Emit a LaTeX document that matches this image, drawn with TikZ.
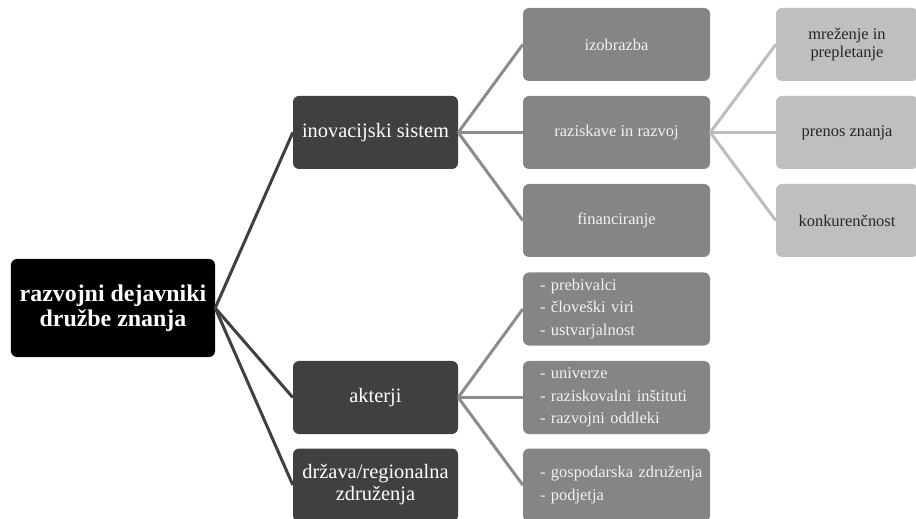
\documentclass[tikz,border=0pt]{standalone}
\usepackage{fontspec}
\setmainfont{Liberation Serif}
\usepackage{xcolor}
\usepackage{tikz}
\definecolor{darkbox}{HTML}{404040}
\definecolor{midbox}{HTML}{858585}
\definecolor{lightbox}{HTML}{BFBFBF}
\definecolor{midline}{HTML}{8C8C8C}
\definecolor{lightline}{HTML}{BDBDBD}

\begin{document}
\begin{tikzpicture}[x=1bp,y=-1bp]
\tikzstyle{rootbox}=[rectangle, rounded corners=6bp, fill=black, text=white, inner sep=2bp, minimum width=204bp, minimum height=98bp, align=center, font=\fontsize{24}{25}\selectfont\bfseries]
\tikzstyle{firstbox}=[rectangle, rounded corners=6bp, fill=darkbox, text=white, inner sep=2bp, minimum width=165bp, minimum height=73bp, align=center, font=\fontsize{20.5}{22}\selectfont]
\tikzstyle{secondbox}=[rectangle, rounded corners=6bp, fill=midbox, text=white!95!black, inner sep=2bp, minimum width=187bp, minimum height=73bp, align=center, font=\fontsize{16.5}{22.5}\selectfont]
\tikzstyle{listbox}=[secondbox, align=left, text width=153bp, inner xsep=17bp]
\tikzstyle{thirdbox}=[rectangle, rounded corners=6bp, fill=lightbox, text=black!85, inner sep=2bp, minimum width=142bp, minimum height=73bp, align=center, font=\fontsize{16.5}{19}\selectfont]
\tikzstyle{firstline}=[draw=darkbox, line width=3bp]
\tikzstyle{secondline}=[draw=midline, line width=3bp]
\tikzstyle{thirdline}=[draw=lightline, line width=3bp]
\clip (0,0) rectangle (916,519);
% root
\node[rootbox](root) at (113,308){razvojni dejavniki\\družbe znanja};
% first level
\node[firstbox](inov) at (375.5,132.5){inovacijski sistem};
\node[firstbox](akt) at (375.5,397.5){akterji};
\node[firstbox](drz) at (375.5,485){država/regionalna\\združenja};
% second level
\node[secondbox](izo) at (616.5,44.5){izobrazba};
\node[secondbox](raz) at (616.5,132.5){raziskave in razvoj};
\node[secondbox](fin) at (616.5,220.5){financiranje};
\node[listbox](preb) at (616.5,309){\mbox{- prebivalci}\\\mbox{- človeški viri}\\\mbox{- ustvarjalnost}};
\node[listbox](univ) at (616.5,397.5){\mbox{- univerze}\\\mbox{- raziskovalni inštituti}\\\mbox{- razvojni oddleki}};
\node[listbox](gosp) at (616.5,485){\mbox{- gospodarska združenja}\\\mbox{- podjetja}};
% third level
\node[thirdbox](mrez) at (847,44.5){mreženje in\\prepletanje};
\node[thirdbox](pren) at (847,132.5){prenos znanja};
\node[thirdbox](konk) at (847,220.5){konkurenčnost};
% connectors
\draw[firstline] (root.east) -- (inov.west);
\draw[firstline] (root.east) -- (akt.west);
\draw[firstline] (root.east) -- (drz.west);
\draw[secondline] (inov.east) -- (izo.west);
\draw[secondline] (inov.east) -- (raz.west);
\draw[secondline] (inov.east) -- (fin.west);
\draw[secondline] (akt.east) -- (preb.west);
\draw[secondline] (akt.east) -- (univ.west);
\draw[secondline] (akt.east) -- (gosp.west);
\draw[thirdline] (raz.east) -- (mrez.west);
\draw[thirdline] (raz.east) -- (pren.west);
\draw[thirdline] (raz.east) -- (konk.west);
\end{tikzpicture}
\end{document}
